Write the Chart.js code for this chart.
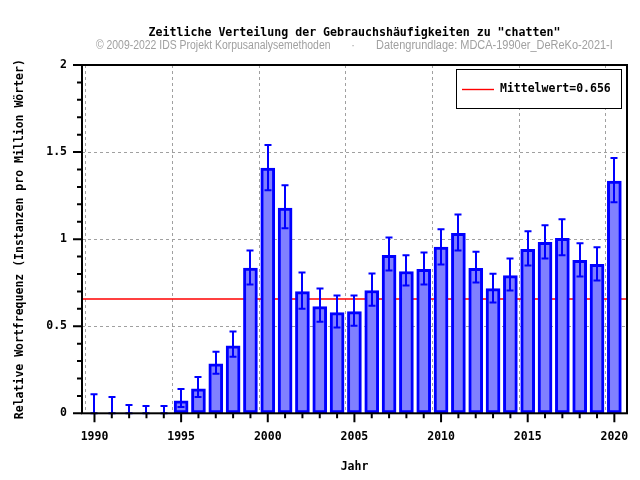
<!DOCTYPE html>
<html>
<head>
<meta charset="utf-8">
<script src="https://cdn.jsdelivr.net/npm/chart.js@4.4.1/dist/chart.umd.min.js"></script>
<style>
  html, body { margin:0; padding:0; background:#fff; }
  #wrap { width:640px; height:480px; }
</style>
</head>
<body>
<div id="wrap"><canvas id="chart" width="640" height="480"></canvas></div>
<script>
const YEARS   = [1990,1991,1992,1993,1994,1995,1996,1997,1998,1999,2000,2001,2002,2003,2004,2005,
                 2006,2007,2008,2009,2010,2011,2012,2013,2014,2015,2016,2017,2018,2019,2020];
const FREQ    = [0,0,0,0,0,0.071,0.14,0.284,0.388,0.834,1.408,1.178,0.699,0.613,0.578,0.584,
                 0.705,0.907,0.814,0.826,0.955,1.033,0.832,0.716,0.791,0.941,0.982,1.005,0.878,0.855,1.333];
const ERR_HI  = [0.11,0.094,0.048,0.042,0.042,0.14,0.209,0.353,0.47,0.935,1.54,1.31,0.809,0.716,0.676,0.676,
                 0.803,1.01,0.907,0.924,1.057,1.141,0.928,0.801,0.889,1.045,1.08,1.114,0.976,0.953,1.466];
const ERR_LO  = [0,0,0,0,0,0.036,0.094,0.227,0.325,0.74,1.281,1.062,0.601,0.526,0.492,0.503,
                 0.618,0.82,0.734,0.74,0.855,0.935,0.751,0.636,0.705,0.849,0.889,0.907,0.786,0.763,1.212];
const Y_TICKS = [0,0.1,0.2,0.3,0.4,0.5,0.6,0.7,0.8,0.9,1,1.1,1.2,1.3,1.4,1.5,1.6,1.7,1.8,1.9,2];
const MEAN    = 0.656;
const X_MIN   = 1989.28;
const X_MAX   = 2020.73;

const TITLE    = 'Zeitliche Verteilung der Gebrauchshäufigkeiten zu "chatten"';
const SUB_LEFT = '© 2009-2022 IDS Projekt Korpusanalysemethoden';
const SUB_RIGHT = 'Datengrundlage: MDCA-1990er_DeReKo-2021-I';

const MONO  = 'DejaVu Sans Mono';
const BLUE  = '#0000ff';
const RED   = '#ff0000';
const isMajorY = v => Math.round(v*10) % 5 === 0;

// condensed grey text, like the narrow font of the original
function narrowText(c, txt, x, y, align, sx) {
  c.save();
  c.translate(x, y); c.scale(sx, 1);
  c.textAlign = align;
  c.fillText(txt, 0, 0);
  c.restore();
}

// frame, tick marks, error bars, titles and the legend box (gnuplot look)
const gnuplotBits = {
  id:'gnuplotBits',
  beforeDraw(chart) {
    const c = chart.ctx;
    c.save(); c.fillStyle = '#fff'; c.fillRect(0,0,chart.width,chart.height); c.restore();
  },
  afterDatasetsDraw(chart) {
    const c = chart.ctx, xs = chart.scales.x, ys = chart.scales.y;
    c.save();
    c.strokeStyle = BLUE; c.lineWidth = 2;
    YEARS.forEach((yr,i) => {
      const x = Math.round(xs.getPixelForValue(yr));
      const yh = ys.getPixelForValue(ERR_HI[i]), yl = ys.getPixelForValue(ERR_LO[i]);
      c.beginPath();
      c.moveTo(x,yh); c.lineTo(x,yl);
      c.moveTo(x-3.5,yh); c.lineTo(x+3.5,yh);
      c.moveTo(x-3.5,yl); c.lineTo(x+3.5,yl);
      c.stroke();
    });
    c.restore();
  },
  afterDraw(chart) {
    const c = chart.ctx, a = chart.chartArea, xs = chart.scales.x, ys = chart.scales.y;
    c.save();
    // frame
    c.strokeStyle = '#000'; c.lineWidth = 2;
    c.strokeRect(a.left, a.top, a.right-a.left, a.bottom-a.top);
    // tick marks (outward)
    c.beginPath();
    ys.ticks.forEach(t => {
      const y = ys.getPixelForValue(t.value), len = isMajorY(t.value) ? 9 : 5;
      c.moveTo(a.left-len, y); c.lineTo(a.left, y);
    });
    xs.ticks.forEach(t => {
      const x = xs.getPixelForValue(t.value), len = t.value % 5 === 0 ? 9 : 5;
      c.moveTo(x, a.bottom); c.lineTo(x, a.bottom+len);
    });
    c.stroke();

    // title + subtitle, centred on the plot area
    const cx = (a.left + a.right) / 2;
    c.textAlign = 'center'; c.textBaseline = 'middle';
    c.fillStyle = '#000';
    c.font = `bold 11.6px "${MONO}"`;
    c.fillText(TITLE, cx, 33);
    c.fillStyle = '#a0a0a0';
    c.font = '12px "Liberation Sans", sans-serif';
    narrowText(c, SUB_LEFT, cx-24, 46, 'right', 0.87);
    narrowText(c, '·', cx-1.5, 46, 'center', 0.9);
    narrowText(c, SUB_RIGHT, cx+21.5, 46, 'left', 0.915);

    // legend
    const bx = a.right - 171, by = a.top + 4, bw = 165, bh = 39;
    c.fillStyle = '#fff'; c.fillRect(bx, by, bw, bh);
    c.strokeStyle = '#000'; c.lineWidth = 1;
    c.strokeRect(bx+0.5, by+0.5, bw, bh);
    c.strokeStyle = RED; c.lineWidth = 1.4;
    c.beginPath(); c.moveTo(bx+6, by+20.5); c.lineTo(bx+38, by+20.5); c.stroke();
    c.fillStyle = '#000'; c.textAlign = 'left';
    c.font = `bold 11.5px "${MONO}"`;
    c.fillText('Mittelwert=' + MEAN.toFixed(3), bx+44, by+20.5);
    c.restore();
  }
};

new Chart(document.getElementById('chart'), {
  type:'bar',
  data:{
    datasets:[
      { type:'bar', data: YEARS.map((yr,i) => ({x:yr, y:FREQ[i]})),
        backgroundColor:'#8080ff', borderColor:BLUE, borderWidth:3, borderSkipped:false,
        barThickness:14, order:0 },
      { type:'line', data:[{x:X_MIN,y:MEAN},{x:X_MAX,y:MEAN}],
        borderColor:RED, borderWidth:1.4, pointRadius:0, fill:false, order:1 }
    ]
  },
  plugins:[gnuplotBits],
  options:{
    responsive:false, animation:false, events:[],
    layout:{ padding:{ top:65, right:13, left:0, bottom:0 } },
    plugins:{ legend:{display:false}, tooltip:{enabled:false}, title:{display:false} },
    scales:{
      x:{
        type:'linear', min:X_MIN, max:X_MAX, offset:false,
        afterBuildTicks: s => { s.ticks = YEARS.map(v => ({value:v})); },
        afterFit: s => { s.height = 66.7; s.paddingLeft = 0; s.paddingRight = 0; },
        border:{ display:false, dash:[3,3] },
        grid:{ drawTicks:false, lineWidth:1,
               color: ctx => (ctx.tick && ctx.tick.value % 5 === 0) ? '#a0a0a0' : 'rgba(0,0,0,0)' },
        ticks:{ autoSkip:false, maxRotation:0, padding:17, color:'#000',
                font:{family:MONO, size:11.5, weight:'bold'},
                callback: v => v % 5 === 0 ? String(v) : '' },
        title:{ display:true, text:'Jahr', color:'#000', padding:{top:0, bottom:6},
                font:{family:MONO, size:11.5, weight:'bold'} }
      },
      y:{
        min:0, max:2,
        afterBuildTicks: s => { s.ticks = Y_TICKS.map(v => ({value:v})); },
        afterFit: s => { s.width = 82; s.paddingTop = 0; s.paddingBottom = 0; },
        border:{ display:false, dash:[3,3] },
        grid:{ drawTicks:false, lineWidth:1,
               color: ctx => (ctx.tick && isMajorY(ctx.tick.value) && ctx.tick.value > 0 && ctx.tick.value < 2) ? '#a0a0a0' : 'rgba(0,0,0,0)' },
        ticks:{ autoSkip:false, padding:15, color:'#000',
                font:{family:MONO, size:11.5, weight:'bold'},
                callback: v => isMajorY(v) ? String(Math.round(v*10)/10) : '' },
        title:{ display:true, text:'Relative Wortfrequenz (Instanzen pro Million Wörter)', color:'#000',
                padding:{top:13, bottom:0},
                font:{family:MONO, size:11.5, weight:'bold'} }
      }
    }
  }
});
</script>
</body>
</html>
